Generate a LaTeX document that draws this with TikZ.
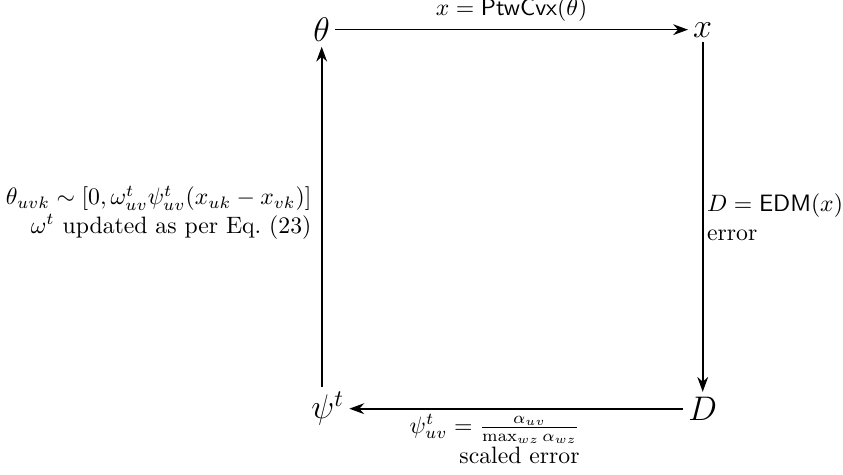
\documentclass[tikz,border=0pt]{standalone}
\usepackage{amsmath}
\usepackage{amssymb}
\usetikzlibrary{positioning,arrows.meta}

\begin{document}
\begin{tikzpicture}[>={Stealth[length=2.2mm,width=1.6mm]},
    vert/.style={font=\Large, inner sep=2pt},
    lbl/.style={font=\normalsize, inner sep=2pt},
    flow/.style={line width=0.7pt,->}]
    \useasboundingbox (0,0) rectangle (12.5,7.04);
    % corners of the loop
    \node[vert] (theta) at (4.77,6.60) {$\theta$};
    \node[vert] (x) at (10.42,6.60) {$x$};
    \node[vert] (D) at (10.42,0.98) {$D$};
    \node[vert] (psi) at (4.86,0.98) {$\psi^t$};
    % top
    \draw[flow] (theta) -- (x)
        node[lbl, midway, above, yshift=1pt] (ptw) {$x = \mathsf{PtwCvx}(\theta)$};
    % right
    \draw[flow] (x) -- (D)
        node[lbl, midway, right, align=left, xshift=-0.5pt] (edm) {$D = \mathsf{EDM}(x)$\\error};
    % bottom
    \draw[flow] (D) -- (psi)
        node[lbl, midway, below, align=right, xshift=-0.32cm] (scl) {$\psi^t_{uv} = \frac{\alpha_{uv}}{\max_{wz}\alpha_{wz}}$\\[1pt]scaled error};
    % left
    \draw[flow] (psi.north -| theta.south) -- (theta)
        node[lbl, midway, left, align=right, xshift=-2pt, yshift=0.06cm] (smp) {$\theta_{uvk} \sim [0, \omega^t_{uv}\psi^t_{uv}(x_{uk}-x_{vk})]$\\$\omega^t$ updated as per Eq.~(23)};
\end{tikzpicture}
\end{document}
